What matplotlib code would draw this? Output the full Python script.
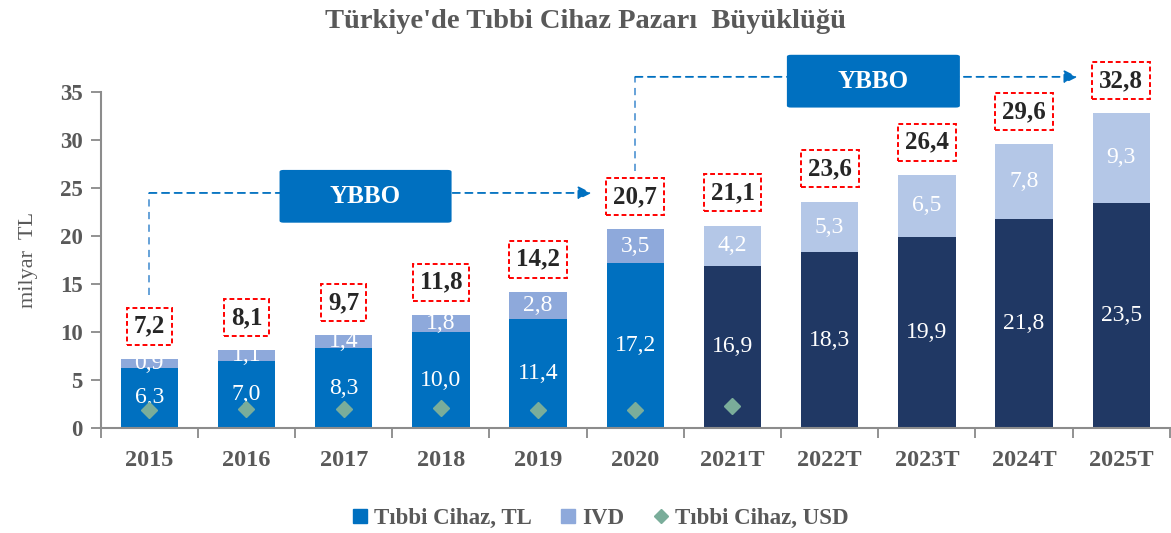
import numpy as np
import matplotlib
matplotlib.use("Agg")
import matplotlib.pyplot as plt
from matplotlib.patches import FancyBboxPatch
from matplotlib.lines import Line2D

# ── Data ──────────────────────────────────────────────────────────────────────
years   = ["2015", "2016", "2017", "2018", "2019", "2020",
           "2021T", "2022T", "2023T", "2024T", "2025T"]
tl_vals = [6.3, 7.0, 8.3, 10.0, 11.4, 17.2, 16.9, 18.3, 19.9, 21.8, 23.5]
ivd_vals = [0.9, 1.1, 1.4, 1.8, 2.8, 3.5, 4.2, 5.3, 6.5, 7.8, 9.3]
totals  = [7.2, 8.1, 9.7, 11.8, 14.2, 20.7, 21.1, 23.6, 26.4, 29.6, 32.8]
usd_vals = [1.9, 2.0, 2.0, 2.1, 1.9, 1.9, 2.3]   # 2015 .. 2021T
n_hist = 6  # actual years, rest are forecasts

# ── Style ─────────────────────────────────────────────────────────────────────
SERIF = "Liberation Serif"
GRAY_TXT = "#595959"
C_TL, C_IVD = "#0070C0", "#8EA9DB"
C_TL_F, C_IVD_F = "#203864", "#B4C7E7"
C_USD = "#7AAD9A"

plt.rcParams["font.family"] = SERIF

fig = plt.figure(figsize=(11.71, 5.33), dpi=100)
ax = fig.add_axes([0.086, 0.197, 0.913, 0.630])

x = np.arange(len(years))
tl_colors  = [C_TL if i < n_hist else C_TL_F for i in range(len(years))]
ivd_colors = [C_IVD if i < n_hist else C_IVD_F for i in range(len(years))]

ax.bar(x, tl_vals, width=0.59, color=tl_colors, zorder=2)
ax.bar(x, ivd_vals, width=0.59, bottom=tl_vals, color=ivd_colors, zorder=2)
ax.plot(x[:len(usd_vals)], usd_vals, linestyle="none", marker="D",
        markersize=8, color=C_USD, zorder=4)

fmt = lambda v: f"{v:.1f}".replace(".", ",")
for i in range(len(years)):
    ax.text(x[i], tl_vals[i] / 2, fmt(tl_vals[i]), ha="center", va="center",
            color="white", fontsize=17, zorder=3)
    ax.text(x[i], tl_vals[i] + ivd_vals[i] / 2, fmt(ivd_vals[i]), ha="center",
            va="center", color="white", fontsize=17, zorder=3)
    ax.text(x[i], totals[i] + 3.4, fmt(totals[i]), ha="center", va="center",
            color="#262626", fontsize=18, fontweight="bold", zorder=5,
            bbox=dict(boxstyle="square,pad=0.28", fc="white", ec="#FF0000",
                      ls=(0, (2.5, 1.5)), lw=1.4))

# ── Axes ──────────────────────────────────────────────────────────────────────
ax.set_xlim(-0.5, len(years) - 0.5)
ax.set_ylim(0, 35)
ax.set_yticks(np.arange(0, 36, 5))
ax.set_xticks(np.arange(-0.5, len(years), 1.0))
ax.set_xticklabels([])
ax.set_xticks(x, minor=True)
ax.set_xticklabels(years, minor=True, fontsize=17.5, fontweight="bold", color=GRAY_TXT)
ax.tick_params(axis="x", which="minor", length=0, pad=16)
ax.tick_params(axis="x", which="major", length=7, color="#7F7F7F", width=1.2)
ax.tick_params(axis="y", length=7, color="#7F7F7F", width=1.2, labelsize=16.5,
               labelcolor=GRAY_TXT, pad=6)
for lab in ax.get_yticklabels():
    lab.set_fontweight("bold")
for s in ["top", "right"]:
    ax.spines[s].set_visible(False)
for s in ["left", "bottom"]:
    ax.spines[s].set_color("#8C8C8C")
    ax.spines[s].set_linewidth(1.5)
ax.set_ylabel("milyar  TL", fontsize=16, color=GRAY_TXT, labelpad=16)

# ── YBBO annotations ─────────────────────────────────────────────────────────
dash_kw = dict(color="#5B9BD5", linestyle=(0, (4, 3)), linewidth=1.3,
               clip_on=False, zorder=1)
arrow_kw = dict(arrowstyle="-|>,head_length=0.8,head_width=0.4",
                color="#0070C0", ls=(0, (4, 3)), lw=1.3, shrinkA=0, shrinkB=0)
# first period
ax.plot([0, 0], [13.9, 24.5], **dash_kw)
ax.annotate("", xy=(4.55, 24.5), xytext=(0, 24.5),
            arrowprops=arrow_kw, annotation_clip=False)
# second period
ax.plot([5, 5], [26.8, 36.6], **dash_kw)
ax.annotate("", xy=(9.55, 36.6), xytext=(5, 36.6),
            arrowprops=arrow_kw, annotation_clip=False)

for (x0, y0, w, h) in [(1.34, 21.4, 1.77, 5.5), (6.56, 33.4, 1.78, 5.5)]:
    box = FancyBboxPatch((x0, y0), w, h, boxstyle="round,pad=0,rounding_size=0.04",
                         fc="#0070C0", ec="none", clip_on=False, zorder=6,
                         mutation_aspect=5)
    ax.add_patch(box)
    ax.text(x0 + w / 2, y0 + h / 2, "YBBO", ha="center", va="center",
            color="white", fontsize=18, fontweight="bold", zorder=7)

# ── Title & legend ───────────────────────────────────────────────────────────
fig.text(0.5, 0.960, "Türkiye'de Tıbbi Cihaz Pazarı  Büyüklüğü", ha="center",
         va="center", fontsize=20.5, fontweight="bold", color=GRAY_TXT)

handles = [
    Line2D([], [], linestyle="none", marker="s", markersize=10, color=C_TL),
    Line2D([], [], linestyle="none", marker="s", markersize=10, color=C_IVD),
    Line2D([], [], linestyle="none", marker="D", markersize=7.5, color=C_USD),
]
leg = fig.legend(handles, ["Tıbbi Cihaz, TL", "IVD", "Tıbbi Cihaz, USD"],
                 loc="center", bbox_to_anchor=(0.512, 0.028), ncol=3,
                 frameon=False, handlelength=0.8, handletextpad=0.2,
                 columnspacing=1.2,
                 prop=dict(family=SERIF, size=16.5, weight="bold"))
for t in leg.get_texts():
    t.set_color(GRAY_TXT)

fig.savefig("out.png", dpi=100)
